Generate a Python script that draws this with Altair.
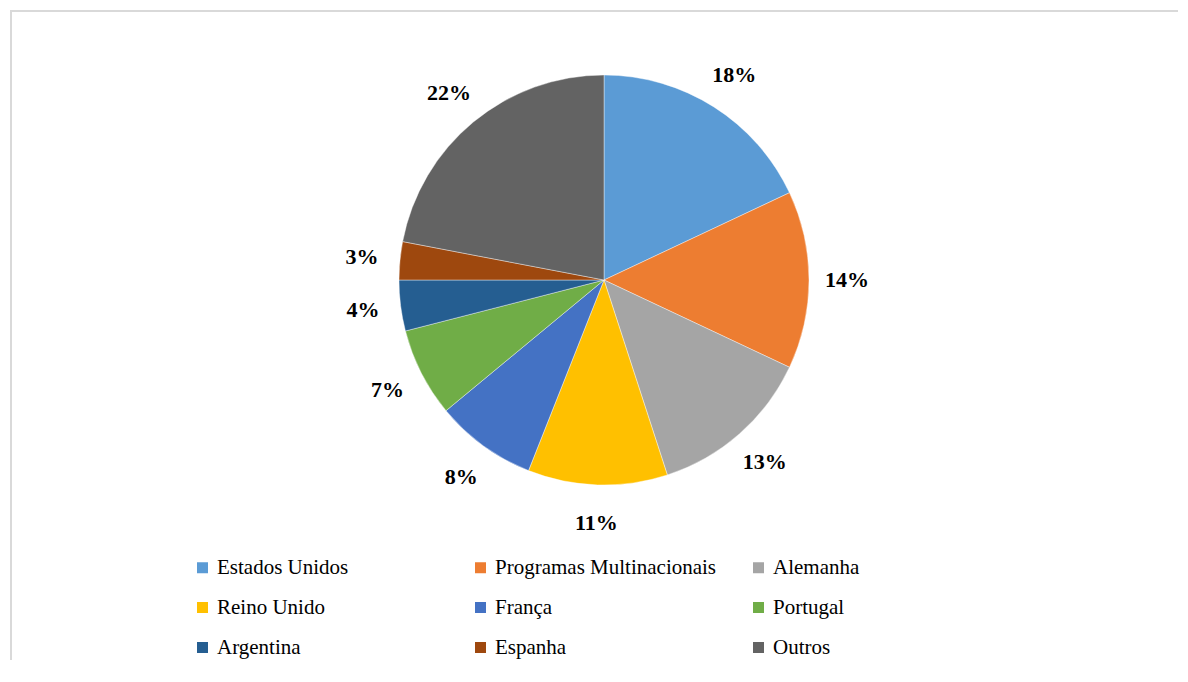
import altair as alt
import pandas as pd

categories = ["Estados Unidos", "Programas Multinacionais", "Alemanha",
              "Reino Unido", "França", "Portugal",
              "Argentina", "Espanha", "Outros"]
values = [18, 14, 13, 11, 8, 7, 4, 3, 22]
colors = ["#5B9BD5", "#ED7D31", "#A5A5A5", "#FFC000", "#4472C4",
          "#70AD47", "#255E91", "#9E480E", "#636363"]

df = pd.DataFrame({
    "pais": categories,
    "valor": values,
    "rotulo": [f"{v}%" for v in values],
    "ordem": list(range(len(categories))),
})

CX, CY = 594, 270
SERIF = "Liberation Serif"

base = alt.Chart(df).encode(
    theta=alt.Theta("valor:Q", stack=True),
    order=alt.Order("ordem:Q"),
)

arcs = base.mark_arc(outerRadius=205, stroke="white", strokeWidth=0.4).encode(
    color=alt.Color(
        "pais:N",
        scale=alt.Scale(domain=categories, range=colors),
        sort=categories,
        legend=alt.Legend(
            title=None,
            orient="none",
            legendX=182,
            legendY=547,
            direction="horizontal",
            columns=3,
            gridAlign="all",
            columnPadding=31,
            rowPadding=18,
            symbolType="square",
            symbolSize=121,
            symbolStrokeWidth=0,
            labelFont=SERIF,
            labelFontSize=21,
            labelColor="#000000",
            labelOffset=4,
            labelLimit=400,
            padding=0,
        ),
    ),
    x=alt.value(CX),
    y=alt.value(CY),
)

text = base.mark_text(
    radius=243, font=SERIF, fontSize=22, fontWeight="bold", color="#000000"
).encode(
    text="rotulo:N",
    x=alt.value(CX),
    y=alt.value(CY),
)

frame_df = pd.DataFrame({"d": [0]})
top_rule = alt.Chart(frame_df).mark_rule(color="#d9d9d9", strokeWidth=2).encode(
    x=alt.value(0), x2=alt.value(1200), y=alt.value(1)
)
left_rule = alt.Chart(frame_df).mark_rule(color="#d9d9d9", strokeWidth=2).encode(
    x=alt.value(1), y=alt.value(0), y2=alt.value(700)
)

chart = alt.layer(top_rule, left_rule, arcs, text).properties(
    width=1168,
    height=650,
    autosize=alt.AutoSizeParams(type="none"),
    padding={"left": 2, "top": 2, "right": 0, "bottom": 0},
    background="white",
).configure_view(strokeWidth=0, stroke="transparent")

chart.save("out.html", embed_options={"renderer": "svg", "actions": False})
